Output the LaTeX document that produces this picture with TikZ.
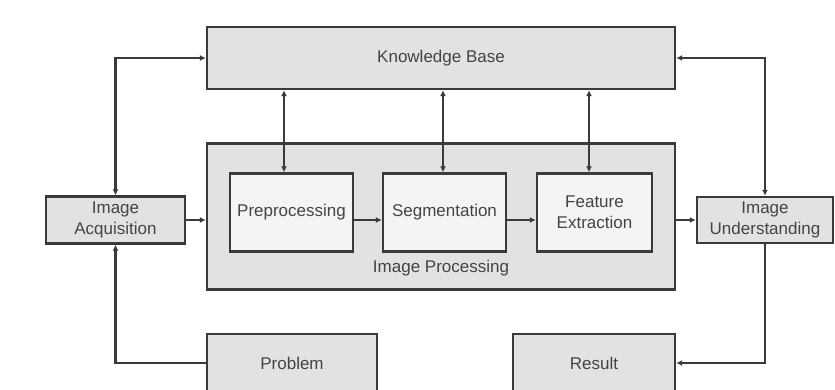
\documentclass[tikz,border=0pt]{standalone}
\usepackage{fontspec}
\setmainfont{Liberation Sans}
\usetikzlibrary{arrows.meta}
\definecolor{edge}{HTML}{3A3A3A}
\definecolor{boxgray}{HTML}{E2E2E2}
\definecolor{inner}{HTML}{F4F4F4}
\definecolor{txt}{HTML}{444444}
\tikzset{
  box/.style={draw=edge, line width=2.4pt, fill=boxgray, inner sep=0pt, align=center,
    text=txt, font=\fontsize{17}{21}\selectfont},
  innerbox/.style={box, fill=inner},
  conn/.style={draw=edge, line width=2.4pt, -{Latex[length=6pt,width=6pt]}},
  biconn/.style={draw=edge, line width=2.4pt, {Latex[length=6pt,width=6pt]}-{Latex[length=6pt,width=6pt]}}
}
\begin{document}
\begin{tikzpicture}[x=1pt,y=-1pt]
\useasboundingbox (0,0) rectangle (835,389);
\clip (0,0) rectangle (835,389);
\fill[white] (0,0) rectangle (835,389);
\node[box, minimum width=468pt, minimum height=62pt] (kb) at (441,58) {Knowledge Base};
\node[box, minimum width=468pt, minimum height=146pt] (ip) at (441,216.5) {};
\node[text=txt, font=\fontsize{17}{21}\selectfont] (iplabel) at (441,268) {Image Processing};
\node[box, minimum width=139pt, minimum height=47pt] (ia) at (115.5,220) {Image\\Acquisition};
\node[box, minimum width=136pt, minimum height=46pt] (iu) at (765,220) {Image\\Understanding};
\node[innerbox, minimum width=123pt, minimum height=78pt] (pre) at (291.5,212.5) {Preprocessing};
\node[innerbox, minimum width=123pt, minimum height=78pt] (seg) at (444.5,212.5) {Segmentation};
\node[innerbox, minimum width=115pt, minimum height=78pt] (fe) at (594.5,212.5) {Feature\\Extraction};
\node[box, minimum width=170pt, minimum height=58pt] (prob) at (292,363) {Problem};
\node[box, minimum width=162pt, minimum height=58pt] (res) at (594,363) {Result};
% connectors
\draw[biconn] (ia.north) |- (kb.west);
\draw[biconn] (kb.east) -| (iu.north);
\draw[biconn] ([xshift=-7.5pt]kb.south -| pre.north) -- ([xshift=-7.5pt]pre.north);
\draw[biconn] ([xshift=-1.5pt]kb.south -| seg.north) -- ([xshift=-1.5pt]seg.north);
\draw[biconn] ([xshift=-5.5pt]kb.south -| fe.north) -- ([xshift=-5.5pt]fe.north);
\draw[conn] (ia.east) -- (ia.east -| ip.west);
\draw[conn] (pre.east |- ia.east) -- (seg.west |- ia.east);
\draw[conn] (seg.east |- ia.east) -- (fe.west |- ia.east);
\draw[conn] (ip.east |- iu.west) -- (iu.west);
\draw[conn] (prob.west) -| (ia.south);
\draw[conn] (iu.south) |- (res.east);
\end{tikzpicture}
\end{document}
